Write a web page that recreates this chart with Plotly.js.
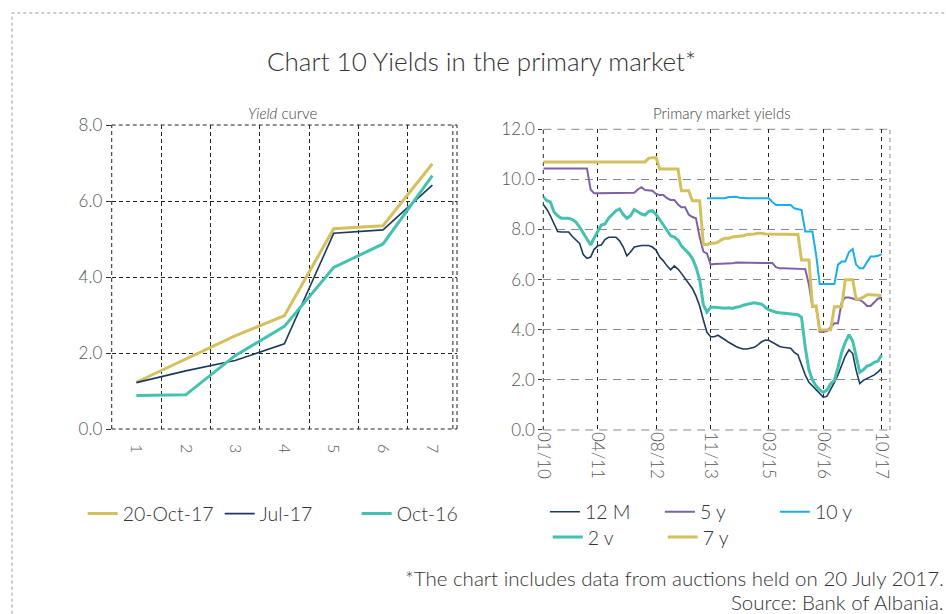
<!DOCTYPE html>
<html>
<head>
<meta charset="utf-8">
<script src="https://cdn.plot.ly/plotly-3.0.1.min.js"></script>
<style>
  html, body { margin: 0; padding: 0; background: #fff; }
  #chart { width: 946px; height: 614px; }
</style>
</head>
<body>
<div id="chart"></div>
<script>
// Yield curve (left panel): maturity buckets 1..7
const maturities = ['1', '2', '3', '4', '5', '6', '7'];
const curveOct17 = [1.23, 1.84, 2.45, 2.98, 5.27, 5.35, 6.98];
const curveJul17 = [1.22, 1.53, 1.80, 2.24, 5.15, 5.24, 6.42];
const curveOct16 = [0.88, 0.90, 1.93, 2.70, 4.25, 4.87, 6.67];

// Primary market yields (right panel): monthly, Jan 2010 .. Oct 2017
const firstMonth = [2010, 1];
const monthCount = 94;
const yield12M = [9.0, 8.8, 8.55, 8.2, 7.92, 7.9, 7.9, 7.9, 7.72, 7.6,
  7.45, 7.0, 6.85, 6.9, 7.2, 7.35, 7.38, 7.6, 7.69, 7.69,
  7.69, 7.55, 7.3, 6.95, 7.1, 7.3, 7.34, 7.36, 7.36, 7.36,
  7.3, 7.18, 6.9, 6.75, 6.55, 6.39, 6.55, 6.42, 6.25, 6.05,
  5.9, 5.65, 5.35, 4.95, 4.39, 3.9, 3.72, 3.72, 3.78, 3.7,
  3.6, 3.5, 3.4, 3.33, 3.27, 3.23, 3.23, 3.26, 3.3, 3.4,
  3.52, 3.59, 3.58, 3.5, 3.4, 3.33, 3.3, 3.28, 3.26, 3.1,
  3.0, 2.6, 2.2, 1.9, 1.75, 1.6, 1.45, 1.3, 1.35, 1.6,
  1.9, 2.2, 2.55, 2.95, 3.2, 3.05, 2.4, 1.85, 1.98, 2.05,
  2.12, 2.2, 2.32, 2.46];
const yield5y = [10.44, 10.44, 10.44, 10.44, 10.44, 10.44, 10.44, 10.44, 10.44, 10.44,
  10.44, 10.44, 10.44, 9.6, 9.45, 9.45, 9.45, 9.45, 9.45, 9.45,
  9.45, 9.45, 9.45, 9.45, 9.45, 9.47, 9.6, 9.69, 9.58, 9.55,
  9.55, 9.42, 9.38, 9.38, 9.25, 9.18, 9.18, 9.0, 8.89, 8.89,
  8.6, 8.5, 8.45, 7.7, 7.12, 7.05, 6.6, 6.62, 6.62, 6.63,
  6.63, 6.65, 6.65, 6.68, 6.68, 6.68, 6.68, 6.68, 6.68, 6.68,
  6.68, 6.68, 6.68, 6.66, 6.5, 6.45, 6.45, 6.45, 6.45, 6.45,
  6.45, 6.42, 6.42, 5.8, 4.92, 4.95, 3.92, 3.92, 3.95, 4.1,
  4.26, 4.26, 5.1, 5.29, 5.29, 5.25, 5.2, 5.19, 5.1, 4.95,
  4.95, 5.1, 5.25, 5.27];
const yield10y = [null, null, null, null, null, null, null, null, null, null,
  null, null, null, null, null, null, null, null, null, null,
  null, null, null, null, null, null, null, null, null, null,
  null, null, null, null, null, null, null, null, null, null,
  null, null, null, null, null, 9.25, 9.25, 9.25, 9.25, 9.25,
  9.25, 9.3, 9.31, 9.31, 9.27, 9.25, 9.25, 9.25, 9.25, 9.25,
  9.25, 9.25, 9.25, 9.1, 8.98, 8.98, 8.98, 8.98, 8.98, 8.85,
  8.8, 8.78, 7.92, 7.92, 7.92, 7.0, 5.83, 5.83, 5.83, 5.83,
  5.83, 6.6, 6.72, 6.72, 7.1, 7.22, 6.6, 6.45, 6.45, 6.7,
  6.92, 6.92, 6.95, 7.02];
const yield2y = [9.3, 9.15, 9.1, 8.7, 8.55, 8.45, 8.45, 8.45, 8.4, 8.3,
  8.1, 7.85, 7.6, 7.38, 7.65, 7.92, 8.18, 8.22, 8.45, 8.6,
  8.75, 8.82, 8.6, 8.45, 8.55, 8.8, 8.7, 8.62, 8.58, 8.72,
  8.75, 8.6, 8.4, 8.2, 7.95, 7.75, 7.7, 7.58, 7.35, 7.2,
  7.05, 6.85, 6.5, 6.0, 5.0, 4.7, 4.9, 4.9, 4.88, 4.85,
  4.86, 4.88, 4.85, 4.9, 4.92, 4.98, 5.0, 5.05, 5.08, 5.05,
  5.02, 4.9, 4.8, 4.75, 4.7, 4.68, 4.66, 4.64, 4.62, 4.6,
  4.6, 4.5, 3.3, 2.4, 2.0, 1.75, 1.6, 1.5, 1.6, 1.85,
  1.98, 2.5, 3.1, 3.5, 3.8, 3.55, 2.9, 2.3, 2.4, 2.55,
  2.6, 2.7, 2.75, 2.99];
const yield7y = [10.7, 10.7, 10.7, 10.7, 10.7, 10.7, 10.7, 10.7, 10.7, 10.7,
  10.7, 10.7, 10.7, 10.7, 10.7, 10.7, 10.7, 10.7, 10.7, 10.7,
  10.7, 10.7, 10.7, 10.7, 10.7, 10.7, 10.7, 10.7, 10.7, 10.85,
  10.87, 10.87, 10.42, 10.42, 10.42, 10.42, 10.42, 10.42, 9.55, 9.55,
  9.55, 9.15, 9.15, 9.15, 7.4, 7.4, 7.45, 7.45, 7.5, 7.6,
  7.65, 7.65, 7.7, 7.72, 7.72, 7.75, 7.8, 7.8, 7.82, 7.85,
  7.85, 7.82, 7.82, 7.8, 7.8, 7.8, 7.8, 7.8, 7.8, 7.8,
  7.8, 6.78, 6.78, 6.78, 4.95, 4.95, 3.99, 4.0, 4.0, 4.0,
  4.92, 4.92, 4.92, 6.0, 6.0, 6.0, 5.23, 5.23, 5.3, 5.4,
  5.4, 5.4, 5.38, 5.36];

const dateTicks = ['2010-01-01', '2011-04-01', '2012-08-01', '2013-11-01', '2015-03-01', '2016-06-01', '2017-10-01'];
const dateTickText = ['01/10', '04/11', '08/12', '11/13', '03/15', '06/16', '10/17'];

// month strings for the x axis of the right panel
const months = [];
for (let i = 0; i < monthCount; i++) {
  const y = firstMonth[0] + Math.floor((firstMonth[1] - 1 + i) / 12);
  const m = (firstMonth[1] - 1 + i) % 12 + 1;
  months.push(y + '-' + String(m).padStart(2, '0') + '-01');
}

const gold = '#d4c05c';
const navy = '#1c3a5e';
const teal = '#45c1b0';
const purple = '#7e60a8';
const sky = '#1aaeea';

const data = [
  {x: maturities, y: curveOct17, name: '20-Oct-17', type: 'scatter', mode: 'lines',
   line: {color: gold, width: 3}, xaxis: 'x', yaxis: 'y', legend: 'legend'},
  {x: maturities, y: curveJul17, name: 'Jul-17', type: 'scatter', mode: 'lines',
   line: {color: navy, width: 1.6}, xaxis: 'x', yaxis: 'y', legend: 'legend'},
  {x: maturities, y: curveOct16, name: 'Oct-16', type: 'scatter', mode: 'lines',
   line: {color: teal, width: 3}, xaxis: 'x', yaxis: 'y', legend: 'legend'},

  {x: months, y: yield12M, name: '12 M', type: 'scatter', mode: 'lines',
   line: {color: navy, width: 1.6}, xaxis: 'x2', yaxis: 'y2', legend: 'legend2'},
  {x: months, y: yield5y, name: '5 y', type: 'scatter', mode: 'lines',
   line: {color: purple, width: 2}, xaxis: 'x2', yaxis: 'y2', legend: 'legend2'},
  {x: months, y: yield10y, name: '10 y', type: 'scatter', mode: 'lines',
   line: {color: sky, width: 2}, xaxis: 'x2', yaxis: 'y2', legend: 'legend2'},
  {x: months, y: yield2y, name: '2 v', type: 'scatter', mode: 'lines',
   line: {color: teal, width: 3}, xaxis: 'x2', yaxis: 'y2', legend: 'legend3'},
  {x: months, y: yield7y, name: '7 y', type: 'scatter', mode: 'lines',
   line: {color: gold, width: 3}, xaxis: 'x2', yaxis: 'y2', legend: 'legend3'}
];

const FONT = 'Lato, sans-serif';
const LIGHT = 300;
const tickFont = {family: FONT, size: 17, color: '#555', weight: LIGHT};
const legendFont = {family: FONT, size: 19.5, color: '#333', weight: LIGHT};

const dashBlack = {color: '#222', width: 1, dash: '4px,3px'};
const dashGrey = {color: '#888', width: 1, dash: '8px,6px'};

const layout = {
  width: 946,
  height: 614,
  margin: {l: 0, r: 0, t: 0, b: 0},
  paper_bgcolor: '#fff',
  plot_bgcolor: '#fff',
  font: {family: FONT, color: '#444', weight: LIGHT},
  hovermode: false,
  title: {
    text: 'Chart 10 Yields in the primary market*',
    x: 0.509, xanchor: 'center', xref: 'paper',
    y: 0.899, yanchor: 'middle', yref: 'paper',
    font: {family: FONT, size: 26, color: '#333', weight: LIGHT}
  },
  xaxis: {
    domain: [0.1181, 0.4831], anchor: 'y',
    type: 'category', tickson: 'boundaries', range: [-0.5, 6.5],
    showgrid: true, gridcolor: '#222', gridwidth: 1, griddash: '4px,3px',
    showline: false, zeroline: false, ticks: '',
    tickangle: 90, tickfont: {family: FONT, size: 16, color: '#555', weight: LIGHT},
    ticklabelstandoff: 14
  },
  yaxis: {
    domain: [0.3013, 0.7964], anchor: 'x',
    range: [0, 8], dtick: 2, tickformat: '.1f',
    showgrid: true, gridcolor: '#222', gridwidth: 1, griddash: '4px,3px',
    showline: false, zeroline: false,
    ticks: 'outside', ticklen: 5, tickcolor: '#333', tickfont: tickFont
  },
  xaxis2: {
    domain: [0.5743, 0.9408], anchor: 'y2',
    type: 'date', range: ['2010-01-01', '2017-12-10'],
    tickmode: 'array', tickvals: dateTicks, ticktext: dateTickText,
    showgrid: true, gridcolor: '#222', gridwidth: 1, griddash: '4px,4px',
    showline: false, zeroline: false, ticks: '',
    tickangle: 90, tickfont: tickFont, ticklabelstandoff: 1
  },
  yaxis2: {
    domain: [0.2997, 0.7894], anchor: 'x2',
    range: [0, 12], dtick: 2, tickformat: '.1f',
    showgrid: true, gridcolor: '#888', gridwidth: 1, griddash: '8px,6px',
    showline: false, zeroline: false,
    ticks: 'outside', ticklen: 4, tickcolor: '#333', tickfont: tickFont
  },
  legend: {
    orientation: 'h', x: 0.0874, xanchor: 'left', y: 0.163, yanchor: 'middle',
    font: legendFont, bgcolor: 'rgba(0,0,0,0)', itemwidth: 30,
    entrywidth: 92, entrywidthmode: 'pixels', traceorder: 'normal'
  },
  legend2: {
    orientation: 'h', x: 0.576, xanchor: 'left', y: 0.166, yanchor: 'middle',
    font: legendFont, bgcolor: 'rgba(0,0,0,0)', itemwidth: 30,
    entrywidth: 70, entrywidthmode: 'pixels', traceorder: 'normal'
  },
  legend3: {
    orientation: 'h', x: 0.579, xanchor: 'left', y: 0.125, yanchor: 'middle',
    font: legendFont, bgcolor: 'rgba(0,0,0,0)', itemwidth: 30,
    entrywidth: 70, entrywidthmode: 'pixels', traceorder: 'normal'
  },
  annotations: [
    {text: '<i>Yield</i> curve', xref: 'paper', yref: 'paper', x: 0.299, y: 0.816,
     xanchor: 'center', yanchor: 'middle', showarrow: false,
     font: {family: FONT, size: 15, color: '#444', weight: LIGHT}},
    {text: 'Primary market yields', xref: 'paper', yref: 'paper', x: 0.763, y: 0.816,
     xanchor: 'center', yanchor: 'middle', showarrow: false,
     font: {family: FONT, size: 15, color: '#444', weight: LIGHT}},
    {text: '*The chart includes data from auctions held on 20 July 2017.', xref: 'paper', yref: 'paper',
     x: 1.0, y: 0.0586, xanchor: 'right', yanchor: 'middle', showarrow: false,
     font: {family: FONT, size: 20.5, color: '#333', weight: LIGHT}},
    {text: 'Source: Bank of Albania.', xref: 'paper', yref: 'paper',
     x: 1.0, y: 0.0195, xanchor: 'right', yanchor: 'middle', showarrow: false,
     font: {family: FONT, size: 20.5, color: '#333', weight: LIGHT}}
  ],
  shapes: [
    // outer dashed frame
    {type: 'rect', xref: 'paper', yref: 'paper', x0: 12 / 946, x1: 1.05, y0: -0.05, y1: 1 - 13 / 614,
     line: {color: '#999', width: 1, dash: '3px,3px'}},
    // frame of the yield curve panel
    {type: 'line', layer: 'below', xref: 'x domain', yref: 'y domain', x0: 0, x1: 0, y0: 0, y1: 1, line: dashBlack},
    {type: 'line', layer: 'below', xref: 'x domain', yref: 'y domain', x0: 1, x1: 1, y0: 0, y1: 1, line: dashBlack},
    {type: 'line', layer: 'below', xref: 'x domain', yref: 'y domain', x0: 0.988, x1: 0.988, y0: 0, y1: 1, line: dashBlack},
    {type: 'line', layer: 'below', xref: 'x domain', yref: 'y domain', x0: 0, x1: 1, y0: 0, y1: 0, line: dashBlack},
    {type: 'line', layer: 'below', xref: 'x domain', yref: 'y domain', x0: 0, x1: 1, y0: 1, y1: 1, line: dashBlack},
    // frame of the primary market panel
    {type: 'line', layer: 'below', xref: 'x2 domain', yref: 'y2 domain', x0: 0, x1: 0, y0: 0, y1: 1,
     line: {color: '#222', width: 1, dash: '4px,4px'}},
    {type: 'line', layer: 'below', xref: 'x2 domain', yref: 'y2 domain', x0: 1, x1: 1, y0: 0, y1: 1,
     line: {color: '#888', width: 1, dash: '4px,4px'}},
    {type: 'line', layer: 'below', xref: 'x2 domain', yref: 'y2 domain', x0: 0, x1: 1, y0: 0, y1: 0, line: dashGrey},
    {type: 'line', layer: 'below', xref: 'x2 domain', yref: 'y2 domain', x0: 0, x1: 1, y0: 1, y1: 1, line: dashGrey}
  ]
};

Plotly.newPlot('chart', data, layout, {staticPlot: true, displayModeBar: false});
</script>
</body>
</html>
